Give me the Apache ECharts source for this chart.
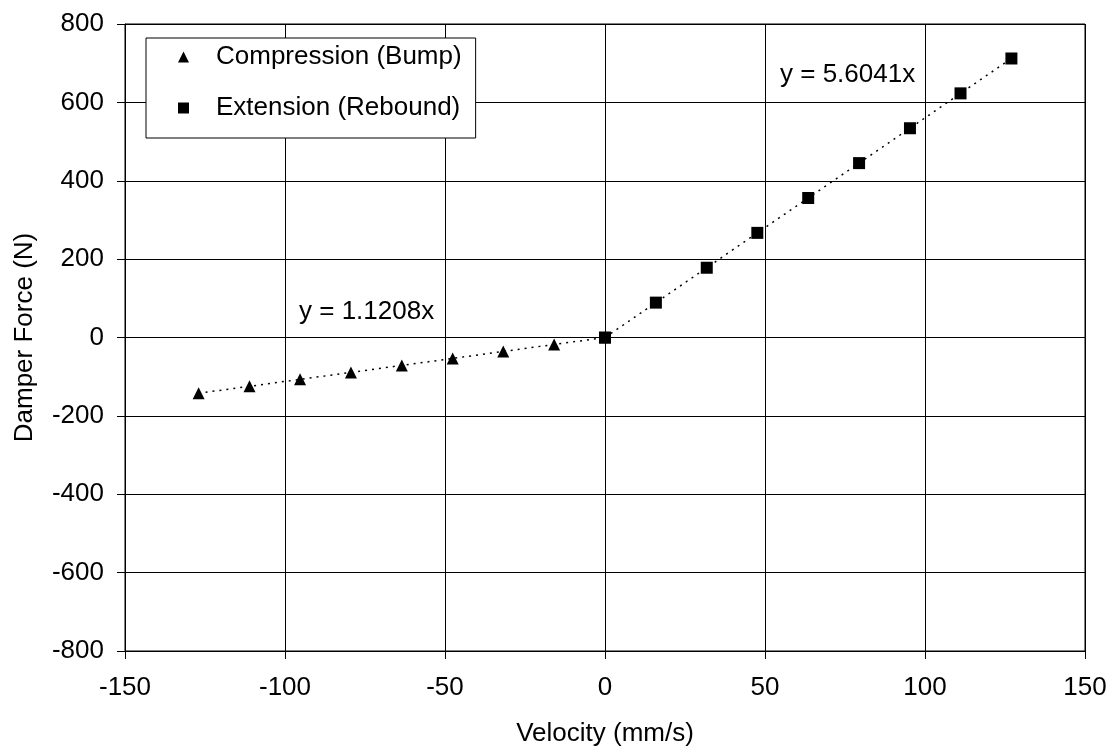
<!DOCTYPE html>
<html>
<head>
<meta charset="utf-8">
<script src="https://cdn.jsdelivr.net/npm/echarts@6/dist/echarts.min.js"></script>
<style>
html,body{margin:0;padding:0;background:#fff;}
#chart{width:1112px;height:752px;}
</style>
</head>
<body>
<div id="chart"></div>
<script>
// Data
const compressionVelocity = [-127, -111.1, -95.3, -79.4, -63.5, -47.6, -31.8, -15.9, 0];
const compressionForce    = [-142.3, -124.5, -106.8, -89.0, -71.2, -53.4, -35.6, -17.8, 0];
const extensionVelocity   = [0, 15.9, 31.8, 47.6, 63.5, 79.4, 95.3, 111.1, 127];
const extensionForce      = [0, 89, 178, 267, 356, 445, 534, 623, 712];
const seriesNames = ['Compression (Bump)', 'Extension (Rebound)'];
const fitLabels = ['y = 1.1208x', 'y = 5.6041x'];
const xTitle = 'Velocity (mm/s)';
const yTitle = 'Damper Force (N)';

const FONT = "'Liberation Sans', Arial, Helvetica, sans-serif";
const FS = 26;

const pairs = (xs, ys) => xs.map((x, i) => [x, ys[i]]);

const chart = echarts.init(document.getElementById('chart'), null, {renderer: 'canvas'});
chart.setOption({
  backgroundColor: '#fff',
  animation: false,
  textStyle: {fontFamily: FONT, color: '#000'},
  grid: {left: 125, right: 27, top: 24, bottom: 100, show: true, borderColor: '#000', borderWidth: 1},
  legend: {
    orient: 'vertical',
    left: 146, top: 38,
    padding: [6, 14, 17, 32],
    itemGap: 25,
    itemWidth: 11, itemHeight: 11,
    borderColor: '#000', borderWidth: 1,
    backgroundColor: '#fff',
    textStyle: {fontFamily: FONT, fontSize: FS, color: '#000', padding: [0, 0, 0, 22]},
    data: [
      {name: seriesNames[0], icon: 'triangle', itemStyle: {color: '#000'}},
      {name: seriesNames[1], icon: 'rect', itemStyle: {color: '#000'}}
    ]
  },
  xAxis: {
    type: 'value', min: -150, max: 150, interval: 50,
    name: xTitle, nameLocation: 'middle', nameGap: 70,
    nameTextStyle: {fontFamily: FONT, fontSize: FS, color: '#000'},
    axisLine: {onZero: false, lineStyle: {color: '#000', width: 1}},
    axisTick: {show: true, inside: false, length: 8, lineStyle: {color: '#000'}},
    axisLabel: {fontFamily: FONT, fontSize: FS, color: '#000', margin: 24},
    splitLine: {show: true, lineStyle: {color: '#000', width: 1}}
  },
  yAxis: {
    type: 'value', min: -800, max: 800, interval: 200,
    name: yTitle, nameLocation: 'middle', nameGap: 87, nameRotate: 90,
    nameTextStyle: {fontFamily: FONT, fontSize: FS, color: '#000'},
    axisLine: {onZero: false, lineStyle: {color: '#000', width: 1}},
    axisTick: {show: true, inside: false, length: 8, lineStyle: {color: '#000'}},
    axisLabel: {fontFamily: FONT, fontSize: FS, color: '#000', margin: 21},
    splitLine: {show: true, lineStyle: {color: '#000', width: 1}}
  },
  series: [
    {
      name: seriesNames[0], type: 'line',
      data: pairs(compressionVelocity, compressionForce),
      symbol: 'triangle', symbolSize: 12, showAllSymbol: true,
      itemStyle: {color: '#000'},
      lineStyle: {color: '#000', width: 1.5, type: [2, 5]},
      z: 3
    },
    {
      name: seriesNames[1], type: 'line',
      data: pairs(extensionVelocity, extensionForce),
      symbol: 'rect', symbolSize: 12, showAllSymbol: true,
      itemStyle: {color: '#000'},
      lineStyle: {color: '#000', width: 1.5, type: [2, 5]},
      z: 4
    }
  ],
  graphic: [
    {type: 'text', left: 299, top: 299, z: 10,
     style: {text: fitLabels[0], font: FS + 'px ' + FONT, fill: '#000'}},
    {type: 'text', left: 780, top: 62, z: 10,
     style: {text: fitLabels[1], font: FS + 'px ' + FONT, fill: '#000'}}
  ]
});
</script>
</body>
</html>
